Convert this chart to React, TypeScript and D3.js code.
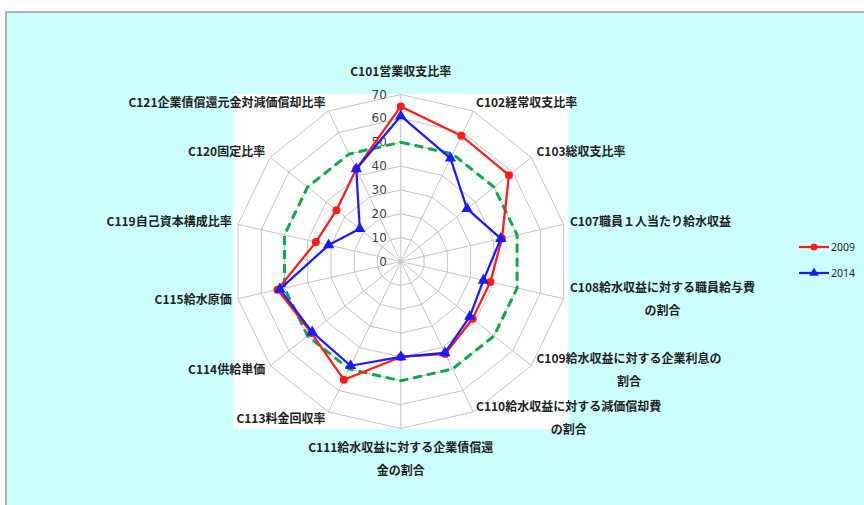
import React, { useEffect, useRef } from "react";
import * as d3 from "d3";

// Indicator names, clockwise from the top ("\n" marks a line break)
const indicators = [
  "C101営業収支比率",
  "C102経常収支比率",
  "C103総収支比率",
  "C107職員１人当たり給水収益",
  "C108給水収益に対する職員給与費\nの割合",
  "C109給水収益に対する企業利息の\n割合",
  "C110給水収益に対する減価償却費\nの割合",
  "C111給水収益に対する企業債償還\n金の割合",
  "C113料金回収率",
  "C114供給単価",
  "C115給水原価",
  "C119自己資本構成比率",
  "C120固定比率",
  "C121企業債償還元金対減価償却比率",
];

const values2009 = [65, 58.5, 58, 43.5, 38.5, 38.5, 43, 40, 55, 48, 53, 36.5, 34.5, 43];
const values2014 = [61, 48, 35.5, 43, 35.5, 37, 42.5, 40, 48.5, 47.5, 52, 31, 22, 43];
const baseline = [50, 50, 50, 50, 50, 50, 50, 50, 50, 50, 50, 50, 50, 50];

const radialTicks = [0, 10, 20, 30, 40, 50, 60, 70];
const seriesNames = ["2009", "2014"];

const W = 864;
const H = 505;
const CX = 400.8;
const CY = 261.5;
const R = 167;

const RED = "#ff1a1a";
const BLUE = "#1a1aff";
const GREEN = "#0fa84a";

export default function App() {
  const ref = useRef<SVGSVGElement | null>(null);

  useEffect(() => {
    const svg = d3.select(ref.current);
    svg.selectAll("*").remove();

    const n = indicators.length;
    const r = d3.scaleLinear().domain([0, 70]).range([0, R]);
    const angle = d3.scaleLinear().domain([0, n]).range([0, 2 * Math.PI]);

    const pt = (i: number, v: number): [number, number] => {
      const a = angle(i);
      return [CX + r(v) * Math.sin(a), CY - r(v) * Math.cos(a)];
    };

    // chart area
    svg
      .append("rect")
      .attr("x", 6)
      .attr("y", 12)
      .attr("width", W + 40)
      .attr("height", H + 40)
      .attr("fill", "#ccffff")
      .attr("stroke", "#b4b4b4")
      .attr("stroke-width", 2);

    // plot area
    svg
      .append("rect")
      .attr("x", CX - R - 0.5)
      .attr("y", CY - R - 0.5)
      .attr("width", 2 * R + 1)
      .attr("height", 2 * R + 1)
      .attr("fill", "#ffffff");

    const g = svg.append("g");

    // grid rings
    radialTicks
      .filter((t) => t > 0)
      .forEach((t) => {
        const pts = d3.range(n).map((i) => pt(i, t));
        g.append("path")
          .attr("d", d3.line()(pts) + "Z")
          .attr("fill", "none")
          .attr("stroke", "#c4c4c4")
          .attr("stroke-width", 1);
      });

    // spokes
    d3.range(n).forEach((i) => {
      const [x, y] = pt(i, radialTicks[radialTicks.length - 1]);
      g.append("line")
        .attr("x1", CX)
        .attr("y1", CY)
        .attr("x2", x)
        .attr("y2", y)
        .attr("stroke", "#c4c4c4")
        .attr("stroke-width", 1);
    });

    // radial tick labels
    radialTicks.forEach((t) => {
      g.append("text")
        .attr("x", CX - 14)
        .attr("y", CY - r(t))
        .attr("text-anchor", "end")
        .attr("dominant-baseline", "central")
        .attr("font-family", "'DejaVu Sans', sans-serif")
        .attr("font-size", 12)
        .attr("fill", "#404040")
        .text(String(t));
    });

    const closed = (vals: number[]) =>
      d3.line()(vals.map((v, i) => pt(i, v))) + "Z";

    // reference level
    g.append("path")
      .attr("d", closed(baseline))
      .attr("fill", "none")
      .attr("stroke", GREEN)
      .attr("stroke-width", 3)
      .attr("stroke-dasharray", "9 5");

    // 2009
    g.append("path")
      .attr("d", closed(values2009))
      .attr("fill", "none")
      .attr("stroke", RED)
      .attr("stroke-width", 2.25)
      .attr("stroke-linejoin", "round");
    values2009.forEach((v, i) => {
      const [x, y] = pt(i, v);
      g.append("circle").attr("cx", x).attr("cy", y).attr("r", 4).attr("fill", RED);
    });

    // 2014
    const tri = d3.symbol().type(d3.symbolTriangle).size(56);
    g.append("path")
      .attr("d", closed(values2014))
      .attr("fill", "none")
      .attr("stroke", BLUE)
      .attr("stroke-width", 2.25)
      .attr("stroke-linejoin", "round");
    values2014.forEach((v, i) => {
      const [x, y] = pt(i, v);
      g.append("path")
        .attr("d", tri()!)
        .attr("transform", `translate(${x},${y})`)
        .attr("fill", BLUE);
    });

    // indicator labels
    const lineGap = 23;
    indicators.forEach((label, i) => {
      const a = angle(i);
      const s = Math.sin(a);
      const c = Math.cos(a);
      const [vx, vy] = pt(i, 70);
      const lines = label.split("\n");
      const t = g
        .append("text")
        .attr("font-family", "'Noto Sans CJK JP', sans-serif")
        .attr("font-size", 12)
        .attr("font-weight", "bold")
        .attr("fill", "#1f1f1f");

      if (Math.abs(s) < 0.01) {
        // top and bottom labels are centred
        const y0 = c > 0 ? vy - 24 - (lines.length - 1) * lineGap : vy + 18;
        lines.forEach((ln, k) => {
          t.append("tspan")
            .attr("x", vx)
            .attr("y", y0 + k * lineGap)
            .attr("text-anchor", "middle")
            .attr("dominant-baseline", "central")
            .text(ln);
        });
        return;
      }

      const x0 = vx + 6.5 * s;
      const yc = vy - 8 * c - 2;
      const y0 = yc - ((lines.length - 1) * lineGap) / 2;
      const first = t
        .append("tspan")
        .attr("x", x0)
        .attr("y", y0)
        .attr("text-anchor", s > 0 ? "start" : "end")
        .attr("dominant-baseline", "central")
        .text(lines[0]);
      if (lines.length > 1) {
        const w = (first.node() as SVGTSpanElement).getComputedTextLength();
        const mid = s > 0 ? x0 + w / 2 : x0 - w / 2;
        lines.slice(1).forEach((ln, k) => {
          t.append("tspan")
            .attr("x", mid)
            .attr("y", y0 + (k + 1) * lineGap)
            .attr("text-anchor", "middle")
            .attr("dominant-baseline", "central")
            .text(ln);
        });
      }
    });

    // legend
    const legend = svg.append("g").attr("transform", "translate(799,247)");
    seriesNames.forEach((name, k) => {
      const row = legend.append("g").attr("transform", `translate(0,${k * 26})`);
      const col = k === 0 ? RED : BLUE;
      row.append("line").attr("x1", 0).attr("x2", 30).attr("y1", 0).attr("y2", 0)
        .attr("stroke", col).attr("stroke-width", 2.25);
      if (k === 0) {
        row.append("circle").attr("cx", 15).attr("cy", 0).attr("r", 3.5).attr("fill", col);
      } else {
        row.append("path").attr("d", d3.symbol().type(d3.symbolTriangle).size(40)()!)
          .attr("transform", "translate(15,0)").attr("fill", col);
      }
      row.append("text")
        .attr("x", 32)
        .attr("y", 0)
        .attr("dominant-baseline", "central")
        .attr("font-family", "'Noto Sans', sans-serif")
        .attr("font-size", 10.5)
        .attr("fill", "#262626")
        .text(name);
    });
  }, []);

  return (
    <svg
      ref={ref}
      width={W}
      height={H}
      style={{ position: "absolute", left: 0, top: 0, display: "block", background: "#ffffff" }}
    />
  );
}
